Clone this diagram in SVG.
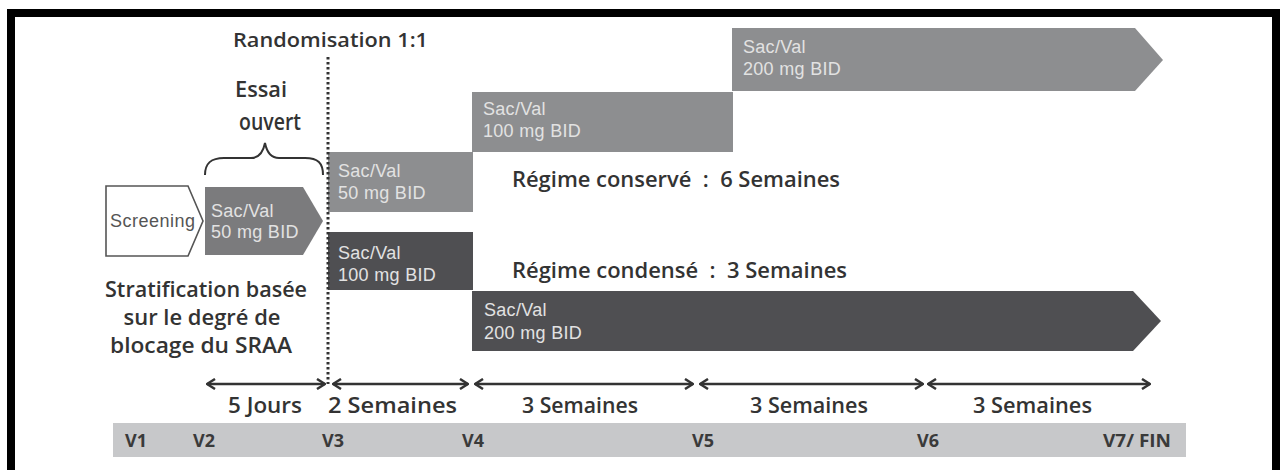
<svg xmlns="http://www.w3.org/2000/svg" width="1280" height="470" viewBox="0 0 1280 470">
<defs>
<style>
.lbl{font-family:"Open Sans","Liberation Sans",sans-serif;font-weight:600;fill:#333;}
.big{font-size:21px;}
.vlab{font-family:"Open Sans","Liberation Sans",sans-serif;font-weight:700;font-size:18px;fill:#3a3a3a;}
.bx{font-family:"Liberation Sans",Arial,sans-serif;font-size:18px;letter-spacing:0.3px;}
.lt{fill:#e2e2e2;}
.med{fill:#8d8e90;}
.drk{fill:#4f4f52;}
.dur{fill:none;stroke:#333;stroke-width:2.5;marker-start:url(#ah);marker-end:url(#ah);}
</style>
<marker id="ah" viewBox="0 0 10 12" refX="9" refY="6" markerWidth="10" markerHeight="12" orient="auto-start-reverse" markerUnits="userSpaceOnUse">
<path d="M1,1 L9,6 L1,11" fill="none" stroke="#333" stroke-width="2.5"/>
</marker>
</defs>
<rect x="0" y="0" width="1280" height="470" fill="#ffffff"/>
<path d="M11,470 V13 H1276 V470" fill="none" stroke="#000" stroke-width="8"/>

<g id="randomisation">
<text class="lbl" x="233" y="47" font-size="20" textLength="195" lengthAdjust="spacingAndGlyphs">Randomisation 1:1</text>
</g>

<g id="essai-ouvert">
<text class="lbl" x="235" y="97" font-size="21" textLength="52" lengthAdjust="spacingAndGlyphs">Essai</text>
<text class="lbl" x="239" y="130" font-size="22.5" textLength="62" lengthAdjust="spacingAndGlyphs">ouvert</text>
<path d="M205,175 C205,163 211,158 224,158 L251,158 C259,158 263,153 265,143 C267,153 271,158 279,158 L305,158 C318,158 323,163 323,175" fill="none" stroke="#333" stroke-width="2"/>
</g>

<g id="screening">
<path d="M106,186 H188 L203,221 L188,256 H106 Z" fill="#fff" stroke="#555" stroke-width="1.6"/>
<text class="bx" x="110" y="227" font-size="17.5" style="letter-spacing:0.5px" fill="#555">Screening</text>
</g>

<g id="open-50">
<path d="M205,187 H303 L323,221 L303,255 H205 Z" fill="#7b7b7d"/>
<text class="bx lt" x="211" y="217">Sac/Val</text>
<text class="bx lt" x="211" y="238">50 mg BID</text>
</g>

<g id="c-50">
<rect class="med" x="328" y="152" width="145" height="60"/>
<text class="bx lt" x="338" y="177">Sac/Val</text>
<text class="bx lt" x="338" y="199">50 mg BID</text>
</g>

<g id="c-100">
<rect class="med" x="472" y="92" width="261" height="60"/>
<text class="bx lt" x="483" y="115">Sac/Val</text>
<text class="bx lt" x="483" y="137">100 mg BID</text>
</g>

<g id="c-200">
<path class="med" d="M732,28 H1135 L1163,60 L1135,91 H732 Z"/>
<text class="bx lt" x="743" y="53">Sac/Val</text>
<text class="bx lt" x="743" y="75">200 mg BID</text>
</g>

<g id="regime-conserve">
<text class="lbl" x="512" y="187" font-size="21.5" textLength="328" lengthAdjust="spacingAndGlyphs">Régime conservé&#160;&#160;:&#160;&#160;6 Semaines</text>
</g>

<g id="d-100">
<rect class="drk" x="328" y="232" width="145" height="58"/>
<text class="bx lt" x="338" y="259">Sac/Val</text>
<text class="bx lt" x="338" y="281">100 mg BID</text>
</g>

<g id="regime-condense">
<text class="lbl" x="512" y="278" font-size="21.5" textLength="335" lengthAdjust="spacingAndGlyphs">Régime condensé&#160;&#160;:&#160;&#160;3 Semaines</text>
</g>

<g id="d-200">
<path class="drk" d="M472,291 H1133 L1161,321 L1133,351 H472 Z"/>
<text class="bx lt" x="484" y="316">Sac/Val</text>
<text class="bx lt" x="484" y="339">200 mg BID</text>
</g>

<g id="stratification">
<text class="lbl" font-size="21.5" x="206" y="297" text-anchor="middle" textLength="202" lengthAdjust="spacingAndGlyphs">Stratification basée</text>
<text class="lbl" font-size="21.5" x="202" y="325" text-anchor="middle" textLength="157" lengthAdjust="spacingAndGlyphs">sur le degré de</text>
<text class="lbl" font-size="21.5" x="201" y="353" text-anchor="middle" textLength="182" lengthAdjust="spacingAndGlyphs">blocage du SRAA</text>
</g>

<g id="connectors">
<line x1="328" y1="57" x2="328" y2="384" stroke="#333" stroke-width="3" stroke-dasharray="2.5 2.5"/>
<line class="dur" x1="207" y1="384" x2="325" y2="384"/>
<line class="dur" x1="333" y1="384" x2="468" y2="384"/>
<line class="dur" x1="475" y1="384" x2="693" y2="384"/>
<line class="dur" x1="700" y1="384" x2="923" y2="384"/>
<line class="dur" x1="928" y1="384" x2="1150" y2="384"/>
</g>

<g id="durations">
<text class="lbl big" x="228" y="413" textLength="74" lengthAdjust="spacingAndGlyphs">5 Jours</text>
<text class="lbl big" x="328" y="413" textLength="129" lengthAdjust="spacingAndGlyphs">2 Semaines</text>
<text class="lbl big" x="522" y="413" textLength="116" lengthAdjust="spacingAndGlyphs">3 Semaines</text>
<text class="lbl big" x="750" y="413" textLength="118" lengthAdjust="spacingAndGlyphs">3 Semaines</text>
<text class="lbl big" x="973" y="413" textLength="119" lengthAdjust="spacingAndGlyphs">3 Semaines</text>
</g>

<g id="visits">
<rect x="113" y="423" width="1073" height="34" fill="#c7c8ca"/>
<text class="vlab" x="125" y="447">V1</text>
<text class="vlab" x="193" y="447">V2</text>
<text class="vlab" x="322" y="447">V3</text>
<text class="vlab" x="462" y="447">V4</text>
<text class="vlab" x="692" y="447">V5</text>
<text class="vlab" x="917" y="447">V6</text>
<text class="vlab" x="1103" y="447" textLength="68" lengthAdjust="spacingAndGlyphs">V7/ FIN</text>
</g>
</svg>
